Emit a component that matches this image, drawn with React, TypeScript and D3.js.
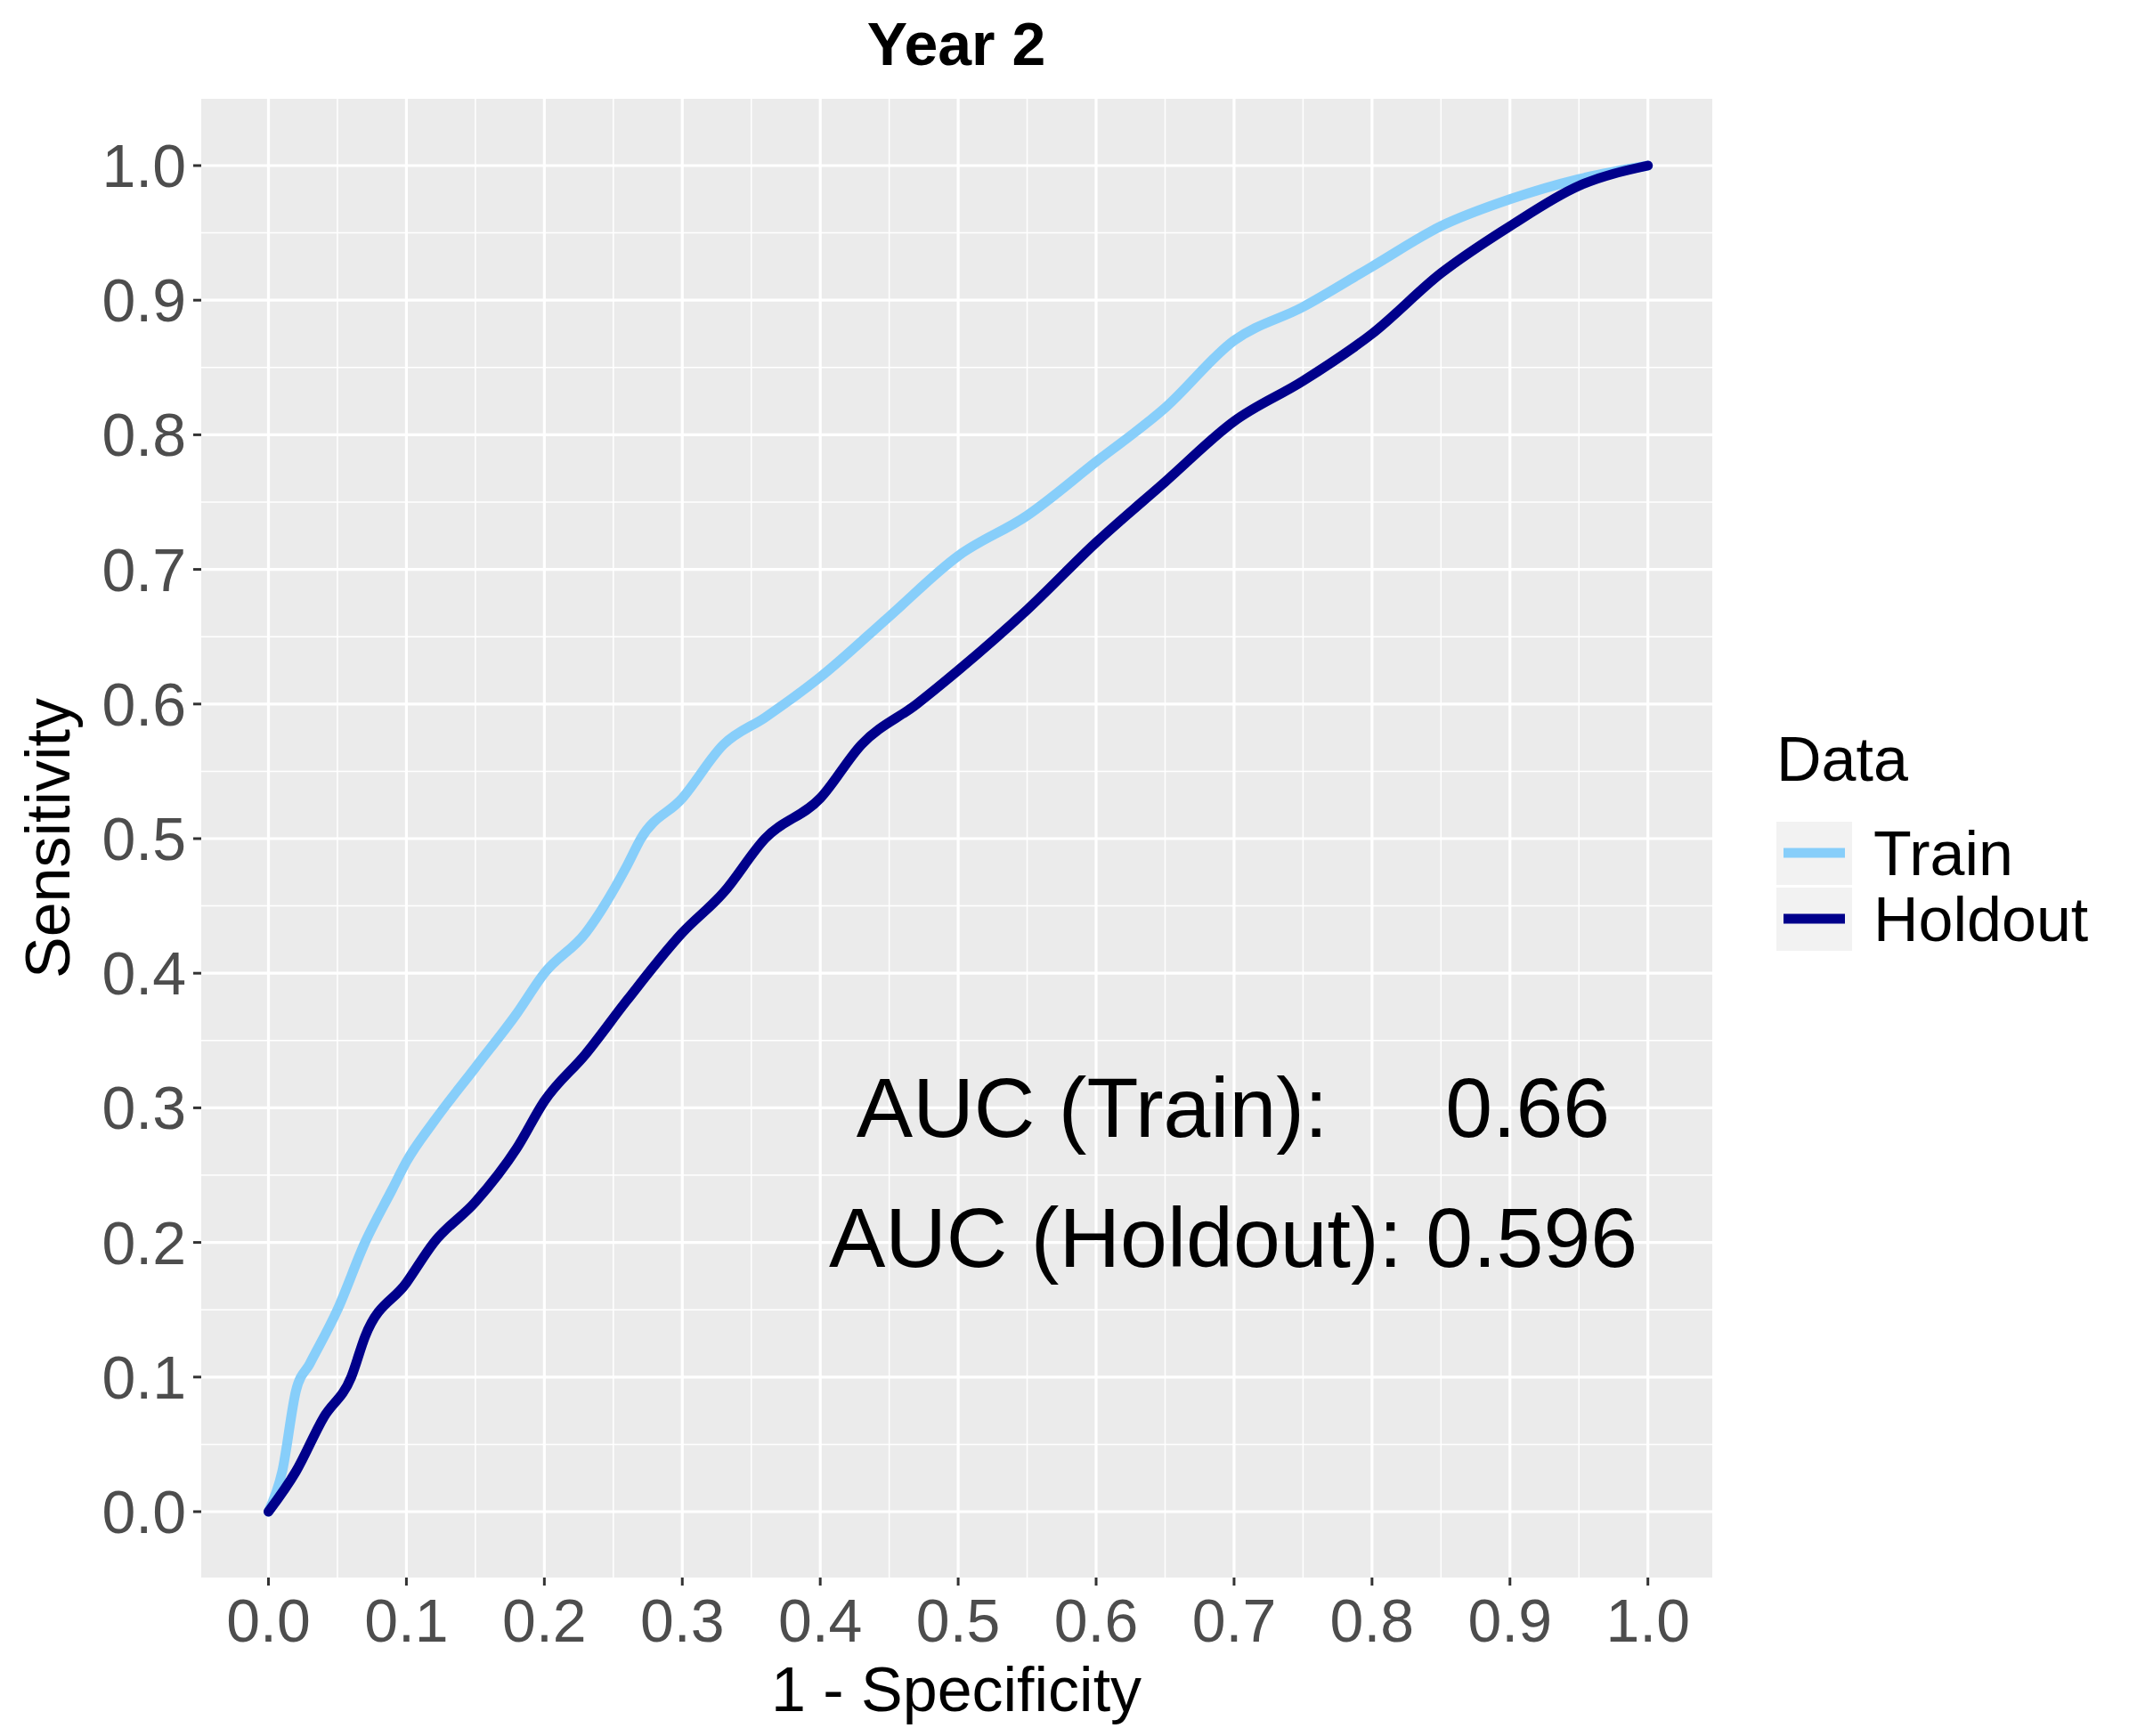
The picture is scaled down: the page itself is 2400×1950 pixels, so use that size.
import React from "react";
import * as d3 from "d3";

const trainX = [0,0.01,0.02,0.03,0.05,0.07,0.09,0.1,0.12,0.15,0.18,0.2,0.23,0.26,0.27,0.3,0.33,0.36,0.4,0.45,0.5,0.55,0.6,0.65,0.7,0.75,0.8,0.85,0.9,0.95,1];
const trainY = [0,0.03,0.09,0.11,0.15,0.2,0.24,0.26,0.29,0.33,0.37,0.4,0.43,0.48,0.5,0.53,0.57,0.59,0.62,0.665,0.71,0.74,0.78,0.82,0.87,0.895,0.925,0.955,0.975,0.99,1];
const holdX = [0,0.02,0.04,0.06,0.07,0.1,0.12,0.15,0.18,0.2,0.23,0.26,0.3,0.33,0.36,0.4,0.43,0.47,0.5,0.55,0.6,0.65,0.7,0.75,0.8,0.85,0.9,0.95,1];
const holdY = [0,0.03,0.07,0.1,0.13,0.17,0.2,0.23,0.27,0.305,0.34,0.38,0.43,0.46,0.5,0.53,0.57,0.6,0.625,0.67,0.72,0.765,0.81,0.84,0.875,0.92,0.955,0.985,1];
const ticks = [0,0.1,0.2,0.3,0.4,0.5,0.6,0.7,0.8,0.9,1.0];
const trainColor = "#87CEFA";
const holdColor = "#00008B";

export default function App() {
  const L = 226, R = 1923, T = 111, B = 1772;
  const x = d3.scaleLinear().domain([0, 1]).range([301.5, 1850.7]);
  const y = d3.scaleLinear().domain([0, 1]).range([1698, 186]);
  const line = d3.line<[number, number]>().x(d => x(d[0])).y(d => y(d[1])).curve(d3.curveMonotoneX);
  const tr = trainX.map((v, i) => [v, trainY[i]] as [number, number]);
  const ho = holdX.map((v, i) => [v, holdY[i]] as [number, number]);
  const minor = [-0.05].concat(ticks.slice(0, -1).map(t => t + 0.05));
  const font = "Liberation Sans, Arial, sans-serif";
  return (
    <svg width={2400} height={1950} style={{ position: "absolute", left: 0, top: 0, fontFamily: font }}>
      <rect width={2400} height={1950} fill="white" />
      <rect x={L} y={T} width={R - L} height={B - T} fill="#EBEBEB" />
      {minor.map(t => <g key={"m" + t}>
        <line x1={x(t)} x2={x(t)} y1={T} y2={B} stroke="white" strokeWidth={1.5} />
        <line x1={L} x2={R} y1={y(t)} y2={y(t)} stroke="white" strokeWidth={1.5} />
      </g>)}
      {ticks.map(t => <g key={"t" + t}>
        <line x1={x(t)} x2={x(t)} y1={T} y2={B} stroke="white" strokeWidth={3.2} />
        <line x1={L} x2={R} y1={y(t)} y2={y(t)} stroke="white" strokeWidth={3.2} />
        <line x1={x(t)} x2={x(t)} y1={B} y2={B + 9} stroke="#333" strokeWidth={3} />
        <line x1={L - 9} x2={L} y1={y(t)} y2={y(t)} stroke="#333" strokeWidth={3} />
        <text x={x(t)} y={B + 72} textAnchor="middle" fontSize={68} fill="#4D4D4D">{t.toFixed(1)}</text>
        <text x={L - 17} y={y(t) + 24} textAnchor="end" fontSize={68} fill="#4D4D4D">{t.toFixed(1)}</text>
      </g>)}
      <path d={line(tr) || ""} fill="none" stroke={trainColor} strokeWidth={11} strokeLinejoin="round" strokeLinecap="round" />
      <path d={line(ho) || ""} fill="none" stroke={holdColor} strokeWidth={11} strokeLinejoin="round" strokeLinecap="round" />
      <text x={1385} y={1277} textAnchor="middle" fontSize={95} fill="black" style={{ whiteSpace: "pre" }}>{"AUC (Train):     0.66"}</text>
      <text x={1385} y={1423} textAnchor="middle" fontSize={95} fill="black">AUC (Holdout): 0.596</text>
      <text x={1074} y={73} textAnchor="middle" fontSize={68} fontWeight="bold">Year 2</text>
      <text x={1074} y={1922} textAnchor="middle" fontSize={70}>1 - Specificity</text>
      <text transform={`translate(78,${(T + B) / 2}) rotate(-90)`} textAnchor="middle" fontSize={70}>Sensitivity</text>
      <text x={1995} y={877} fontSize={70}>Data</text>
      <rect x={1995} y={923} width={85} height={71} fill="#F2F2F2" />
      <rect x={1995} y={997} width={85} height={71} fill="#F2F2F2" />
      <line x1={2003} x2={2072} y1={958} y2={958} stroke={trainColor} strokeWidth={11} />
      <line x1={2003} x2={2072} y1={1032} y2={1032} stroke={holdColor} strokeWidth={11} />
      <text x={2104} y={983} fontSize={70}>Train</text>
      <text x={2104} y={1057} fontSize={70}>Holdout</text>
    </svg>
  );
}
